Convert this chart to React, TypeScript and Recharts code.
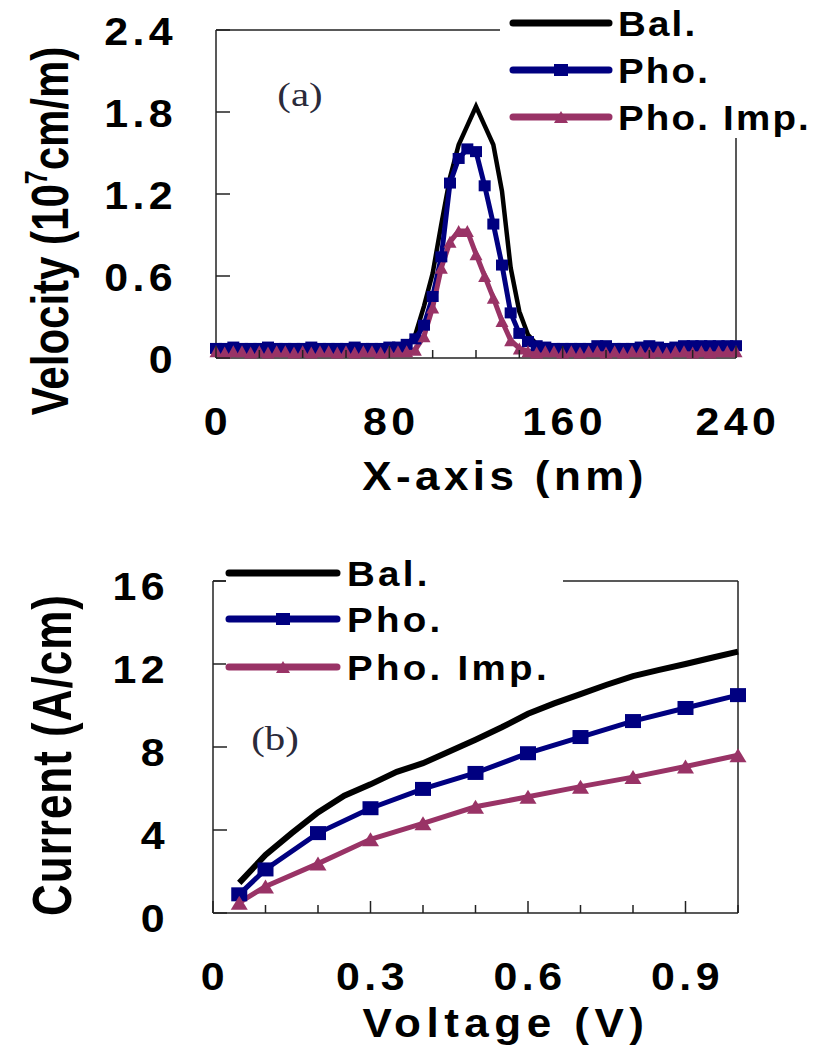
import React from "react";
import { LineChart, Line, XAxis, YAxis, ReferenceLine, Legend, Customized } from "recharts";

// (a) velocity along the channel, x in nm
const positionNm = [
  0, 4, 8, 12, 16, 20, 24, 28, 32, 36, 40, 44, 48, 52, 56, 60, 64, 68, 72, 76, 80, 84,
  88, 92, 96, 100, 104, 108, 112, 116, 120, 124, 128, 132, 136, 140, 144, 148, 152,
  156, 160, 164, 168, 172, 176, 180, 184, 188, 192, 196, 200, 204, 208, 212, 216, 220,
  224, 228, 232, 236, 240,
];
const velocityBal = [
  0.07, 0.07, 0.07, 0.07, 0.07, 0.07, 0.07, 0.07, 0.07, 0.07, 0.07, 0.07, 0.07, 0.07, 0.07, 0.07, 0.07, 0.07, 0.07, 0.07, 0.07, 0.07,
  0.09, 0.17, 0.38, 0.62, 0.98, 1.32, 1.56, 1.7, 1.84, 1.7, 1.56, 1.22, 0.66, 0.34, 0.17, 0.1, 0.08,
  0.07, 0.07, 0.07, 0.07, 0.07, 0.07, 0.07, 0.07, 0.07, 0.07, 0.07, 0.07, 0.07, 0.07, 0.07, 0.07, 0.07, 0.07, 0.07, 0.07, 0.07, 0.07,
];
const velocityPho = [
  0.07, 0.07, 0.08, 0.07, 0.07, 0.07, 0.08, 0.07, 0.07, 0.07, 0.07, 0.08, 0.07, 0.07, 0.07, 0.07, 0.08, 0.07, 0.07, 0.07, 0.08, 0.08,
  0.1, 0.14, 0.24, 0.45, 0.74, 1.28, 1.46, 1.53, 1.51, 1.26, 0.98, 0.68, 0.33, 0.18, 0.12, 0.09, 0.08,
  0.07, 0.07, 0.07, 0.07, 0.07, 0.09, 0.09, 0.07, 0.07, 0.07, 0.08, 0.09, 0.08, 0.07, 0.08, 0.09, 0.09, 0.09, 0.09, 0.09, 0.09, 0.09,
];
const velocityPhoImp = [
  0.05, 0.04, 0.05, 0.05, 0.04, 0.05, 0.04, 0.05, 0.05, 0.04, 0.05, 0.04, 0.05, 0.05, 0.04, 0.05, 0.04, 0.05, 0.05, 0.04, 0.05, 0.05, 0.05,
  0.06, 0.16, 0.37, 0.66, 0.85, 0.93, 0.93, 0.76, 0.6, 0.44, 0.27, 0.13, 0.07, 0.05,
  0.04, 0.05, 0.05, 0.04, 0.05, 0.04, 0.05, 0.05, 0.04, 0.05, 0.04, 0.05, 0.05, 0.04, 0.05, 0.04, 0.05, 0.05, 0.04, 0.05, 0.04, 0.05, 0.05, 0.05,
];
const xTicksA = [0, 20, 40, 60, 80, 100, 120, 140, 160, 180, 200, 220, 240];
const xLabelsA = [0, 80, 160, 240];
const yTicksA = [0, 0.6, 1.2, 1.8, 2.4];

// (b) current vs drain voltage
const voltageBal = [0.05, 0.1, 0.15, 0.2, 0.25, 0.3, 0.35, 0.4, 0.45, 0.5, 0.55, 0.6, 0.65, 0.7, 0.75, 0.8, 0.85, 0.9, 0.95, 1.0];
const currentBal = [1.45, 2.8, 3.85, 4.85, 5.65, 6.2, 6.8, 7.22, 7.78, 8.35, 8.95, 9.6, 10.1, 10.55, 11.0, 11.42, 11.72, 12.0, 12.3, 12.6];
const voltagePho = [0.05, 0.1, 0.2, 0.3, 0.4, 0.5, 0.6, 0.7, 0.8, 0.9, 1.0];
const currentPho = [0.9, 2.1, 3.85, 5.05, 5.98, 6.75, 7.7, 8.48, 9.25, 9.88, 10.5];
const currentPhoImp = [0.5, 1.28, 2.38, 3.55, 4.32, 5.12, 5.6, 6.09, 6.55, 7.06, 7.6];
const xTicksB = [0, 0.1, 0.2, 0.3, 0.4, 0.5, 0.6, 0.7, 0.8, 0.9, 1.0];
const xLabelsB = [0, 0.3, 0.6, 0.9];
const yTicksB = [0, 4, 8, 12, 16];

const seriesNames = ["Bal.", "Pho.", "Pho. Imp."];
const seriesColors = ["#000000", "#000080", "#993366"];
const seriesShapes = ["none", "square", "triangle"];

const velocityData = positionNm.map((x, i) => ({
  x,
  bal: velocityBal[i],
  pho: velocityPho[i],
  imp: velocityPhoImp[i],
}));

const currentData = voltageBal.map((v, i) => {
  const j = voltagePho.findIndex((p) => Math.abs(p - v) < 1e-9);
  return {
    v,
    bal: currentBal[i],
    pho: j >= 0 ? currentPho[j] : null,
    imp: j >= 0 ? currentPhoImp[j] : null,
  };
});

const SANS = "'Liberation Sans', Arial, sans-serif";
const SERIF = "'Liberation Serif', 'Times New Roman', serif";
const AXIS = "#222";

// the scanned figure is wider than tall, so its text looks stretched
const STxt = ({ x, y, size, anchor = "middle", rotate = false, stretch = 1.1, family = SANS, weight = 700, spacing = 0, fill = "#000", children }: any) => (
  <text
    transform={`translate(${x},${y}) scale(${stretch},1)${rotate ? " rotate(-90)" : ""}`}
    fontSize={size}
    fontFamily={family}
    fontWeight={weight}
    textAnchor={anchor}
    letterSpacing={spacing}
    fill={fill}
  >
    {children}
  </text>
);

const marker = (shape: string, cx: number, cy: number, w: number, h: number, color: string, key?: string) => {
  if (shape === "square") return <rect key={key} x={cx - w / 2} y={cy - h / 2} width={w} height={h} fill={color} />;
  if (shape === "triangle")
    return <polygon key={key} points={`${cx},${cy - h / 2} ${cx + w / 2},${cy + h / 2} ${cx - w / 2},${cy + h / 2}`} fill={color} />;
  return <g key={key} />;
};

const dotFor = (shape: string, color: string, w: number, h: number) => (p: any) => {
  const key = `d-${p.index}`;
  if (p.cx == null || p.cy == null || p.value == null) return <g key={key} />;
  return marker(shape, p.cx, p.cy, w, h, color, key);
};

const xTick = (labels: number[], dropLabel: number) => (p: any) => {
  const { x, y, payload } = p;
  const labelled = labels.some((l) => Math.abs(l - payload.value) < 1e-9);
  return (
    <g>
      <line x1={x} x2={x} y1={y} y2={y - (labelled ? 12 : 8)} stroke={AXIS} strokeWidth={1.5} />
      {labelled && (
        <STxt x={x + 2} y={y + dropLabel} size={39} spacing={4}>
          {String(payload.value)}
        </STxt>
      )}
    </g>
  );
};

const yTick = (gap: number, drop: number) => (p: any) => {
  const { x, y, payload } = p;
  return (
    <g>
      <line x1={x} x2={x + 14} y1={y} y2={y} stroke={AXIS} strokeWidth={1.5} />
      <STxt x={x - gap + 4} y={y + drop} size={39} anchor="end" spacing={4}>
        {String(payload.value)}
      </STxt>
    </g>
  );
};

const legendContent = (rowsY: number[], lineX: [number, number], textX: number, w: number, h: number, spacing: number) => (props: any) => {
  const payload = props.payload || [];
  return (
    <svg width={w} height={h} style={{ display: "block", overflow: "visible" }}>
      {payload.map((entry: any, i: number) => {
        const k = seriesNames.indexOf(entry.value);
        const color = seriesColors[k] ?? entry.color;
        const y = rowsY[i];
        const mid = (lineX[0] + lineX[1]) / 2;
        return (
          <g key={entry.value}>
            <line x1={lineX[0]} x2={lineX[1]} y1={y} y2={y} stroke={color} strokeWidth={7} strokeLinecap="round" />
            {marker(seriesShapes[k], mid, y, 14, 12, color)}
            <STxt x={textX} y={y + 13} size={35} anchor="start" spacing={spacing}>
              {entry.value}
            </STxt>
          </g>
        );
      })}
    </svg>
  );
};

const VelocityChart = () => (
  <LineChart width={819} height={500} data={velocityData} margin={{ top: 30, right: 83, bottom: 0, left: 0 }}>
    <XAxis
      dataKey="x"
      type="number"
      domain={[0, 240]}
      ticks={xTicksA}
      interval={0}
      height={142}
      tickSize={0}
      tickMargin={0}
      tickLine={false}
      axisLine={{ stroke: AXIS, strokeWidth: 1.5 }}
      tick={xTick(xLabelsA, 77)}
    />
    <YAxis
      type="number"
      domain={[0, 2.4]}
      ticks={yTicksA}
      interval={0}
      width={216}
      tickSize={0}
      tickMargin={0}
      tickLine={false}
      axisLine={{ stroke: AXIS, strokeWidth: 1.5 }}
      tick={yTick(43, 15)}
    />
    <ReferenceLine y={2.4} stroke={AXIS} strokeWidth={1.5} />
    <ReferenceLine x={240} stroke={AXIS} strokeWidth={1.5} />
    <Line dataKey="bal" name={seriesNames[0]} stroke={seriesColors[0]} strokeWidth={4.5} dot={false} isAnimationActive={false} />
    <Line dataKey="pho" name={seriesNames[1]} stroke={seriesColors[1]} strokeWidth={5} dot={dotFor("square", seriesColors[1], 12, 11)} isAnimationActive={false} />
    <Line dataKey="imp" name={seriesNames[2]} stroke={seriesColors[2]} strokeWidth={5} dot={dotFor("triangle", seriesColors[2], 13, 12)} isAnimationActive={false} />
    <Legend
      layout="vertical"
      align="center"
      verticalAlign="middle"
      wrapperStyle={{ left: 500, top: 0, width: 312, height: 138, backgroundColor: "#fff" }}
      content={legendContent([23, 70, 117], [13, 109], 118, 312, 138, 2)}
    />
    <Customized
      component={() => (
        <g>
          <STxt x={68} y={231} size={42} rotate stretch={1.25}>
            Velocity (10
            <tspan fontSize={25} dy={-17}>7</tspan>
            <tspan dy={17}>cm/m)</tspan>
          </STxt>
          <STxt x={505} y={490} size={40} spacing={4}>
            X-axis (nm)
          </STxt>
          <STxt x={300} y={106} size={34} family={SERIF} weight={400} fill="#2a2a3a" stretch={1.2}>
            (a)
          </STxt>
        </g>
      )}
    />
  </LineChart>
);

const CurrentChart = () => (
  <LineChart width={819} height={516} data={currentData} margin={{ top: 51, right: 81, bottom: 0, left: 0 }}>
    <XAxis
      dataKey="v"
      type="number"
      domain={[0, 1]}
      ticks={xTicksB}
      interval={0}
      height={133}
      tickSize={0}
      tickMargin={0}
      tickLine={false}
      axisLine={{ stroke: AXIS, strokeWidth: 1.5 }}
      tick={xTick(xLabelsB, 77)}
    />
    <YAxis
      type="number"
      domain={[0, 16]}
      ticks={yTicksB}
      interval={0}
      width={213}
      tickSize={0}
      tickMargin={0}
      tickLine={false}
      axisLine={{ stroke: AXIS, strokeWidth: 1.5 }}
      tick={yTick(48, 19)}
    />
    <ReferenceLine y={16} stroke={AXIS} strokeWidth={1.5} />
    <ReferenceLine x={1} stroke={AXIS} strokeWidth={1.5} />
    <Line dataKey="bal" name={seriesNames[0]} stroke={seriesColors[0]} strokeWidth={6} dot={false} isAnimationActive={false} />
    <Line dataKey="pho" name={seriesNames[1]} stroke={seriesColors[1]} strokeWidth={5} connectNulls dot={dotFor("square", seriesColors[1], 16, 14)} isAnimationActive={false} />
    <Line dataKey="imp" name={seriesNames[2]} stroke={seriesColors[2]} strokeWidth={5} connectNulls dot={dotFor("triangle", seriesColors[2], 17, 14)} isAnimationActive={false} />
    <Legend
      layout="vertical"
      align="center"
      verticalAlign="middle"
      wrapperStyle={{ left: 226, top: 18, width: 337, height: 140, backgroundColor: "#fff" }}
      content={legendContent([25, 71, 119], [3, 111], 121, 337, 140, 3)}
    />
    <Customized
      component={() => (
        <g>
          <STxt x={71} y={225} size={44} rotate stretch={1.25} spacing={1}>
            Current (A/cm)
          </STxt>
          <STxt x={506} y={507} size={40} spacing={5}>
            Voltage (V)
          </STxt>
          <STxt x={275} y={220} size={34} family={SERIF} weight={400} fill="#2a2a3a" stretch={1.2}>
            (b)
          </STxt>
        </g>
      )}
    />
  </LineChart>
);

export default function App() {
  return (
    <div style={{ position: "absolute", left: 0, top: 0, width: 819, height: 1046, background: "#fff" }}>
      <div style={{ position: "absolute", left: 0, top: 0 }}>
        <VelocityChart />
      </div>
      <div style={{ position: "absolute", left: 0, top: 530 }}>
        <CurrentChart />
      </div>
    </div>
  );
}
